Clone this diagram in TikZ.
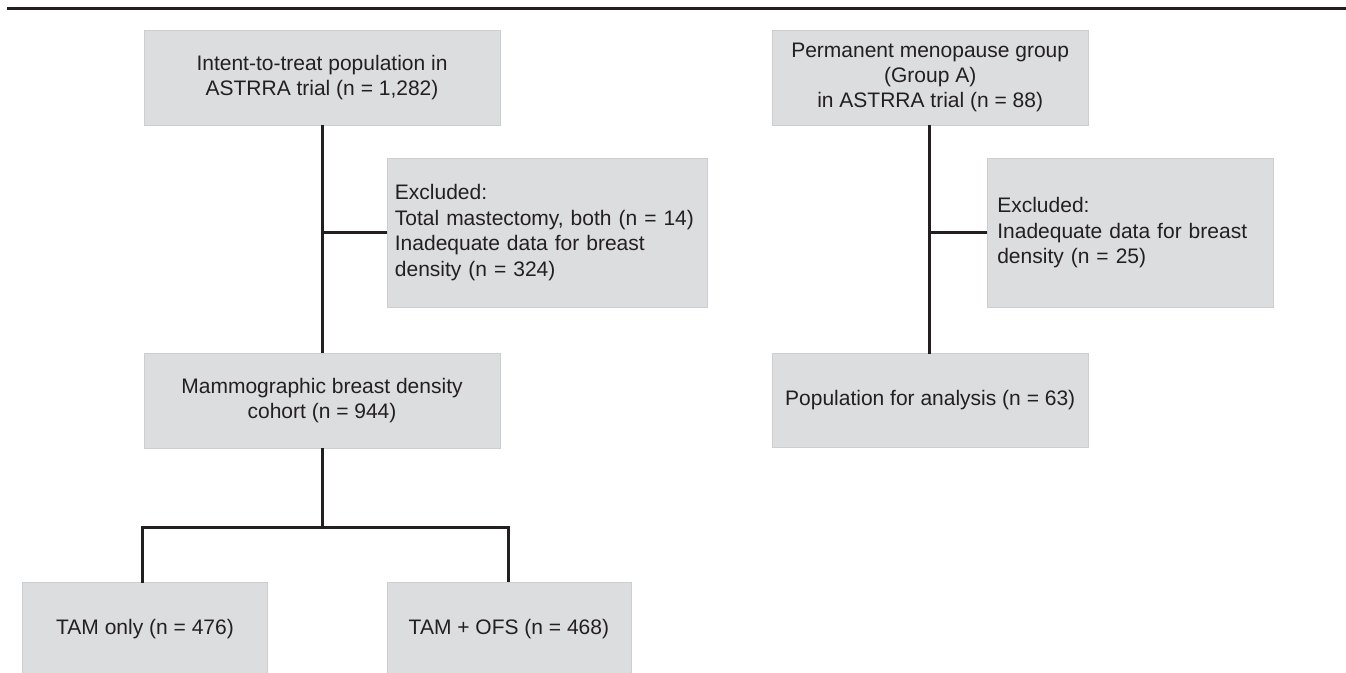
\documentclass[tikz,border=0pt]{standalone}
\usepackage{fontspec}
\setmainfont{Liberation Sans}
\definecolor{boxfill}{HTML}{DCDDDF}
\definecolor{boxline}{HTML}{CDCED0}
\definecolor{ink}{HTML}{231F20}
\begin{document}
\begin{tikzpicture}[x=1pt,y=-1pt,
  box/.style={fill=boxfill,draw=boxline,line width=0.8pt,inner sep=0pt,
    font=\fontsize{21}{25.4}\selectfont,text=ink,align=center},
  conn/.style={draw=ink,line width=3pt,line join=miter}]
\useasboundingbox (0,0) rectangle (1346,672);
% top rule
\coordinate (r1) at (7,8.7);
\coordinate (r2) at (1346,8.7);
\draw[conn] (r1) -- (r2);
% left column
\node[box,minimum width=356pt,minimum height=95pt] (itt) at (322,77.5)
  {Intent-to-treat population in\\ASTRRA trial (n = 1,282)};
\node[box,minimum width=320pt,minimum height=149pt,align=left,text width=304pt] (exl) at (546.9,232.6)
  {Excluded:\\Total mastectomy, both (n = 14)\\Inadequate data for breast\\density (n = 324)};
\node[box,minimum width=356pt,minimum height=95pt] (mam) at (322,400.5)
  {Mammographic breast density\\cohort (n = 944)};
\node[box,minimum width=245pt,minimum height=92pt] (tam) at (145,628.7)
  {TAM only (n = 476)};
\node[box,minimum width=244pt,minimum height=92pt] (ofs) at (508.9,628.7)
  {TAM + OFS (n = 468)};
\coordinate (brn) at (322,527.7);
\coordinate (tamtop) at (142.3,582.7);
\draw[conn] (itt.south) -- (mam.north);
\draw[conn] (exl.west) -- (exl.west -| itt.south);
\draw[conn] (mam.south) -- (brn);
\draw[conn] (tamtop) |- (brn) -| (ofs.north);
% right column
\node[box,minimum width=316pt,minimum height=95pt] (grpa) at (930.2,77.5)
  {Permanent menopause group\\(Group A)\\in ASTRRA trial (n = 88)};
\node[box,minimum width=286pt,minimum height=149pt,align=left,text width=266pt] (exr) at (1130.3,232.6)
  {Excluded:\\Inadequate data for breast\\density (n = 25)};
\node[box,minimum width=316pt,minimum height=94pt] (pop) at (930.2,400.5)
  {Population for analysis (n = 63)};
\coordinate (rtop) at (929.7,125);
\coordinate (rbot) at (929.7,353.5);
\draw[conn] (rtop) -- (rbot);
\draw[conn] (exr.west) -- (exr.west -| rtop);
\end{tikzpicture}
\end{document}
